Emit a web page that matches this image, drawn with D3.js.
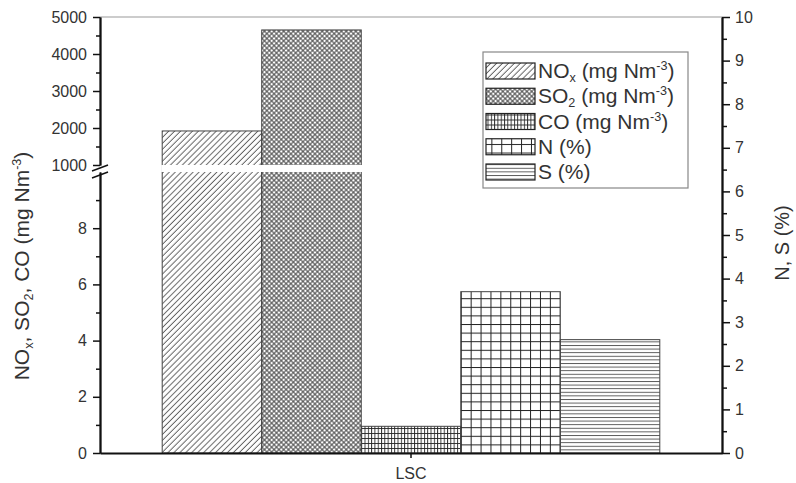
<!DOCTYPE html>
<html>
<head>
<meta charset="utf-8">
<script src="https://cdn.jsdelivr.net/npm/d3@7"></script>
<style>
  body { margin: 0; background: #fff; }
  text { font-family: "Liberation Sans", Arial, sans-serif; fill: #333; }
</style>
</head>
<body>
<div id="chart"></div>
<script>
// Data
const categories = ['LSC']
const seriesKeys = ['NOx', 'SO2', 'CO', 'N', 'S']
const seriesValues = [1920, 4650, 0.95, 3.7, 2.6]
const seriesAxis = ['left', 'left', 'left', 'right', 'right']
const legendLabels = [
  [['NO', ''], ['x', 'sub'], [' (mg Nm', ''], ['-3', 'sup'], [')', '']],
  [['SO', ''], ['2', 'sub'], [' (mg Nm', ''], ['-3', 'sup'], [')', '']],
  [['CO (mg Nm', ''], ['-3', 'sup'], [')', '']],
  [['N (%)', '']],
  [['S (%)', '']],
]
const lowerTicks = [0, 2, 4, 6, 8]
const lowerMinorTicks = [1, 3, 5, 7, 9]
const upperTicks = [1000, 2000, 3000, 4000, 5000]
const upperMinorTicks = [1500, 2500, 3500, 4500]
const rightTicks = [0, 1, 2, 3, 4, 5, 6, 7, 8, 9, 10]
const rightMinorTicks = [0.5, 1.5, 2.5, 3.5, 4.5, 5.5, 6.5, 7.5, 8.5, 9.5]

function draw() {
  // Dimensions
  let dimensions = {
    width: 796,
    height: 483,
    left: 100,
    right: 722,
    top: 17,
    bottom: 453,
    breakLow: 172,
    breakHigh: 165,
  }

  const svg = d3.select('#chart')
    .append('svg')
    .attr('width', dimensions.width)
    .attr('height', dimensions.height)

  // Scales
  const x0 = d3.scaleBand()
    .domain(categories)
    .range([dimensions.left, dimensions.right])
    .paddingInner(0.2)
    .paddingOuter(0.1)

  const x1 = d3.scaleBand()
    .domain(seriesKeys)
    .range([0, x0.bandwidth()])

  const yLower = d3.scaleLinear()
    .domain([0, 10])
    .range([dimensions.bottom, dimensions.breakLow])

  const yUpper = d3.scaleLinear()
    .domain([1000, 5000])
    .range([dimensions.breakHigh, dimensions.top])

  const yRight = d3.scaleLinear()
    .domain([0, 10])
    .range([dimensions.bottom, dimensions.top])

  const yLeft = (v) => v > 10 ? yUpper(v) : yLower(v)

  // Patterns
  const defs = svg.append('defs')
  const barX = (key) => x0(categories[0]) + x1(key)

  const pNox = defs.append('pattern').attr('id', 'p-NOx')
    .attr('patternUnits', 'userSpaceOnUse')
    .attr('width', 4.2).attr('height', 4.2)
    .attr('patternTransform', 'rotate(45)')
  pNox.append('line').attr('x1', 2).attr('y1', -1).attr('x2', 2).attr('y2', 6)
    .attr('stroke', '#555').attr('stroke-width', 0.9)

  const pSo2 = defs.append('pattern').attr('id', 'p-SO2')
    .attr('patternUnits', 'userSpaceOnUse')
    .attr('width', 3.4).attr('height', 3.4)
    .attr('patternTransform', 'rotate(45)')
  pSo2.append('line').attr('x1', 1.7).attr('y1', -1).attr('x2', 1.7).attr('y2', 5)
    .attr('stroke', '#444').attr('stroke-width', 1)
  pSo2.append('line').attr('x1', -1).attr('y1', 1.7).attr('x2', 5).attr('y2', 1.7)
    .attr('stroke', '#444').attr('stroke-width', 1)

  const gridPattern = (id, w, h, vert, horiz, color, sw) => {
    const p = defs.append('pattern').attr('id', id)
      .attr('patternUnits', 'userSpaceOnUse')
      .attr('x', barX(id.slice(2))).attr('y', dimensions.bottom)
      .attr('width', w).attr('height', h)
    if (vert) {
      p.append('line').attr('x1', 0.5).attr('y1', 0).attr('x2', 0.5).attr('y2', h)
        .attr('stroke', color).attr('stroke-width', sw)
    }
    if (horiz) {
      p.append('line').attr('x1', 0).attr('y1', 0.5).attr('x2', w).attr('y2', 0.5)
        .attr('stroke', color).attr('stroke-width', sw)
    }
  }
  gridPattern('p-CO', 3.3, 5, true, true, '#222', 0.9)
  gridPattern('p-N', 9.9, 8.6, true, true, '#222', 1)
  gridPattern('p-S', 10, 3.6, false, true, '#444', 0.9)

  // Bars
  const bars = seriesKeys.map((key, i) => ({
    key,
    value: seriesValues[i],
    axis: seriesAxis[i],
  }))

  svg.append('g')
    .selectAll('rect')
    .data(bars)
    .join('rect')
    .attr('x', d => barX(d.key))
    .attr('width', x1.bandwidth())
    .attr('y', d => d.axis === 'left' ? yLeft(d.value) : yRight(d.value))
    .attr('height', d => dimensions.bottom - (d.axis === 'left' ? yLeft(d.value) : yRight(d.value)))
    .attr('fill', d => `url(#p-${d.key})`)
    .attr('stroke', '#444')
    .attr('stroke-width', 1)

  // Break gap across tall bars
  const tall = bars.filter(d => d.axis === 'left' && d.value > 10)
  svg.append('g')
    .selectAll('rect')
    .data(tall)
    .join('rect')
    .attr('x', d => barX(d.key) - 1)
    .attr('width', x1.bandwidth() + 2)
    .attr('y', yUpper(1000))
    .attr('height', yLower(10) - yUpper(1000))
    .attr('fill', '#fff')

  // Frame top line
  svg.append('line')
    .attr('x1', dimensions.left).attr('x2', dimensions.right)
    .attr('y1', dimensions.top).attr('y2', dimensions.top)
    .attr('stroke', '#999').attr('stroke-width', 1.2)

  // Axes
  const styleAxis = (g) => {
    g.selectAll('.domain').attr('stroke', '#111').attr('stroke-width', 1.8)
    g.selectAll('.tick line').attr('stroke', '#111').attr('stroke-width', 1.5)
    g.selectAll('.tick text').attr('font-size', 16).attr('fill', '#333')
      .style('font-family', '"Liberation Sans", Arial, sans-serif')
  }

  const leftG = svg.append('g').attr('transform', `translate(${dimensions.left}, 0)`)
  leftG.append('g').call(d3.axisLeft(yLower).tickValues(lowerTicks).tickSize(7)
    .tickPadding(6).tickSizeOuter(0)).call(styleAxis)
  leftG.append('g').call(d3.axisLeft(yLower).tickValues(lowerMinorTicks).tickSize(4)
    .tickFormat('').tickSizeOuter(0)).call(styleAxis)
  leftG.append('g').call(d3.axisLeft(yUpper).tickValues(upperTicks).tickSize(7)
    .tickPadding(6).tickFormat(d3.format('d')).tickSizeOuter(0)).call(styleAxis)
  leftG.append('g').call(d3.axisLeft(yUpper).tickValues(upperMinorTicks).tickSize(4)
    .tickFormat('').tickSizeOuter(0)).call(styleAxis)

  // Break marks
  leftG.append('g')
    .selectAll('line')
    .data([yUpper(1000) + 3, yLower(10) + 3])
    .join('line')
    .attr('x1', -8).attr('x2', 8)
    .attr('y1', d => d + 3).attr('y2', d => d - 3)
    .attr('stroke', '#111').attr('stroke-width', 1.5)

  const rightG = svg.append('g').attr('transform', `translate(${dimensions.right}, 0)`)
  rightG.append('g').call(d3.axisRight(yRight).tickValues(rightTicks).tickSize(8)
    .tickPadding(5).tickSizeOuter(0)).call(styleAxis)
  rightG.append('g').call(d3.axisRight(yRight).tickValues(rightMinorTicks).tickSize(5)
    .tickFormat('').tickSizeOuter(0)).call(styleAxis)

  svg.append('g')
    .attr('transform', `translate(0, ${dimensions.bottom})`)
    .call(d3.axisBottom(x0).tickSize(5).tickPadding(10).tickSizeOuter(0))
    .call(styleAxis)

  // Axis titles
  const leftTitle = svg.append('text')
    .attr('transform', `translate(29, 266) rotate(-90)`)
    .attr('text-anchor', 'middle')
    .attr('font-size', 21)
  const titleParts = [['NO', ''], ['x', 'sub'], [', SO', ''], ['2', 'sub'], [', CO (mg Nm', ''], ['-3', 'sup'], [')', '']]
  const addParts = (t, parts, size) => {
    parts.forEach(([s, kind]) => {
      const ts = t.append('tspan').text(s)
      if (kind === 'sub') ts.attr('font-size', size * 0.6).attr('dy', 4)
      if (kind === 'sup') ts.attr('font-size', size * 0.6).attr('dy', -8)
      if (kind === '') ts.attr('dy', t.attr('data-shift') || 0)
      t.attr('data-shift', kind === 'sub' ? -4 : kind === 'sup' ? 8 : 0)
    })
  }
  addParts(leftTitle, titleParts, 21)

  svg.append('text')
    .attr('transform', `translate(789, 243) rotate(-90)`)
    .attr('text-anchor', 'middle')
    .attr('font-size', 20)
    .text('N, S (%)')

  // Legend
  const legend = svg.append('g')
  legend.append('rect')
    .attr('x', 483).attr('y', 52)
    .attr('width', 205).attr('height', 136)
    .attr('fill', '#fff')
    .attr('stroke', '#888')
    .attr('stroke-width', 1.2)

  const rowY = d3.scalePoint()
    .domain(seriesKeys)
    .range([71, 172])

  const rows = legend.selectAll('g.row')
    .data(bars)
    .join('g')
    .attr('class', 'row')
    .attr('transform', d => `translate(486, ${rowY(d.key)})`)

  rows.append('rect')
    .attr('x', 0).attr('y', -8)
    .attr('width', 49).attr('height', 16)
    .attr('fill', d => `url(#p-${d.key})`)
    .attr('stroke', '#222')
    .attr('stroke-width', 1.2)

  rows.each(function (d, i) {
    const t = d3.select(this).append('text')
      .attr('x', 52).attr('y', 7)
      .attr('font-size', 21)
    addParts(t, legendLabels[i], 21)
  })
}

draw()
</script>
</body>
</html>
